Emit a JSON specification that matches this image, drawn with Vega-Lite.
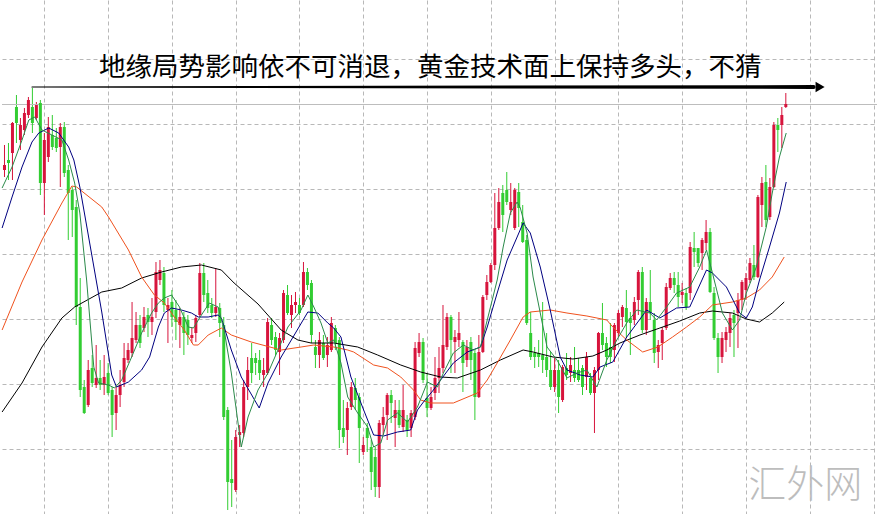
{
 "$schema": "https://vega.github.io/schema/vega-lite/v6.json",
 "width": 878, "height": 514,
 "autosize": {"type": "fit", "contains": "padding"},
 "padding": 0,
 "background": "white",
 "config": {"view": {"stroke": null},
   "axis": {"labels": false, "ticks": false, "domain": false, "grid": true, "gridColor": "#b8b8b8", "gridDash": [4, 3], "gridWidth": 1}},
 "datasets": {
  "candles": [
{"t":0,"o":344,"h":369,"l":337,"c":349},
{"t":1,"o":354,"h":371,"l":334,"c":351},
{"t":2,"o":361,"h":392,"l":334,"c":391},
{"t":3,"o":407,"h":419,"l":371,"c":391},
{"t":4,"o":374,"h":396,"l":364,"c":389},
{"t":5,"o":384,"h":406,"l":379,"c":401},
{"t":6,"o":399,"h":417,"l":396,"c":414},
{"t":7,"o":407,"h":426,"l":381,"c":391},
{"t":8,"o":396,"h":412,"l":394,"c":409},
{"t":9,"o":411,"h":414,"l":319,"c":331},
{"t":10,"o":331,"h":381,"l":299,"c":374},
{"t":11,"o":357,"h":397,"l":352,"c":387},
{"t":12,"o":379,"h":399,"l":364,"c":367},
{"t":13,"o":376,"h":386,"l":362,"c":366},
{"t":14,"o":367,"h":391,"l":327,"c":387},
{"t":15,"o":387,"h":392,"l":337,"c":341},
{"t":16,"o":344,"h":349,"l":274,"c":321},
{"t":17,"o":324,"h":327,"l":277,"c":304},
{"t":18,"o":307,"h":314,"l":189,"c":207},
{"t":19,"o":207,"h":236,"l":117,"c":124},
{"t":20,"o":127,"h":134,"l":100,"c":101},
{"t":21,"o":109,"h":154,"l":107,"c":144},
{"t":22,"o":146,"h":159,"l":127,"c":131},
{"t":23,"o":129,"h":169,"l":126,"c":136},
{"t":24,"o":136,"h":154,"l":124,"c":129},
{"t":25,"o":129,"h":159,"l":119,"c":137},
{"t":26,"o":141,"h":151,"l":119,"c":121},
{"t":27,"o":124,"h":127,"l":77,"c":99},
{"t":28,"o":101,"h":127,"l":84,"c":119},
{"t":29,"o":119,"h":144,"l":107,"c":129},
{"t":30,"o":132,"h":171,"l":127,"c":156},
{"t":31,"o":154,"h":171,"l":151,"c":164},
{"t":32,"o":161,"h":212,"l":157,"c":176},
{"t":33,"o":174,"h":202,"l":171,"c":189},
{"t":34,"o":189,"h":199,"l":166,"c":171},
{"t":35,"o":186,"h":207,"l":182,"c":197},
{"t":36,"o":199,"h":206,"l":177,"c":192},
{"t":37,"o":192,"h":216,"l":179,"c":197},
{"t":38,"o":202,"h":252,"l":196,"c":242},
{"t":39,"o":234,"h":254,"l":229,"c":244},
{"t":40,"o":241,"h":247,"l":202,"c":209},
{"t":41,"o":204,"h":216,"l":171,"c":209},
{"t":42,"o":212,"h":224,"l":187,"c":197},
{"t":43,"o":204,"h":214,"l":174,"c":192},
{"t":44,"o":189,"h":206,"l":166,"c":197},
{"t":45,"o":197,"h":202,"l":159,"c":181},
{"t":46,"o":194,"h":199,"l":169,"c":179},
{"t":47,"o":176,"h":187,"l":171,"c":179},
{"t":48,"o":181,"h":199,"l":172,"c":196},
{"t":49,"o":199,"h":251,"l":197,"c":241},
{"t":50,"o":241,"h":251,"l":212,"c":219},
{"t":51,"o":221,"h":234,"l":201,"c":206},
{"t":52,"o":209,"h":216,"l":196,"c":201},
{"t":53,"o":201,"h":246,"l":197,"c":207},
{"t":54,"o":206,"h":211,"l":177,"c":191},
{"t":55,"o":189,"h":197,"l":94,"c":97},
{"t":56,"o":104,"h":107,"l":4,"c":32},
{"t":57,"o":35,"h":74,"l":7,"c":31},
{"t":58,"o":24,"h":84,"l":22,"c":77},
{"t":59,"o":79,"h":89,"l":67,"c":82},
{"t":60,"o":81,"h":134,"l":77,"c":127},
{"t":61,"o":127,"h":157,"l":114,"c":144},
{"t":62,"o":156,"h":171,"l":131,"c":141},
{"t":63,"o":156,"h":161,"l":139,"c":151},
{"t":64,"o":154,"h":164,"l":134,"c":141},
{"t":65,"o":139,"h":156,"l":127,"c":144},
{"t":66,"o":141,"h":196,"l":139,"c":192},
{"t":67,"o":189,"h":196,"l":169,"c":174},
{"t":68,"o":177,"h":182,"l":159,"c":164},
{"t":69,"o":162,"h":181,"l":139,"c":176},
{"t":70,"o":174,"h":224,"l":171,"c":221},
{"t":71,"o":219,"h":229,"l":199,"c":201},
{"t":72,"o":199,"h":219,"l":186,"c":209},
{"t":73,"o":209,"h":222,"l":201,"c":212},
{"t":74,"o":209,"h":216,"l":199,"c":201},
{"t":75,"o":209,"h":252,"l":207,"c":242},
{"t":76,"o":242,"h":246,"l":224,"c":229},
{"t":77,"o":231,"h":234,"l":171,"c":179},
{"t":78,"o":167,"h":174,"l":146,"c":159},
{"t":79,"o":159,"h":182,"l":146,"c":174},
{"t":80,"o":171,"h":179,"l":154,"c":156},
{"t":81,"o":159,"h":177,"l":147,"c":169},
{"t":82,"o":164,"h":197,"l":162,"c":191},
{"t":83,"o":186,"h":189,"l":164,"c":171},
{"t":84,"o":174,"h":177,"l":66,"c":84},
{"t":85,"o":86,"h":114,"l":71,"c":77},
{"t":86,"o":84,"h":112,"l":59,"c":106},
{"t":87,"o":107,"h":132,"l":104,"c":127},
{"t":88,"o":126,"h":136,"l":104,"c":114},
{"t":89,"o":117,"h":121,"l":51,"c":86},
{"t":90,"o":62,"h":77,"l":59,"c":69},
{"t":91,"o":86,"h":91,"l":62,"c":76},
{"t":92,"o":67,"h":74,"l":24,"c":42},
{"t":93,"o":57,"h":67,"l":17,"c":27},
{"t":94,"o":27,"h":94,"l":16,"c":91},
{"t":95,"o":89,"h":107,"l":79,"c":97},
{"t":96,"o":99,"h":121,"l":74,"c":119},
{"t":97,"o":119,"h":124,"l":91,"c":111},
{"t":98,"o":96,"h":114,"l":67,"c":104},
{"t":99,"o":104,"h":114,"l":86,"c":89},
{"t":100,"o":87,"h":129,"l":82,"c":104},
{"t":101,"o":94,"h":99,"l":77,"c":84},
{"t":102,"o":86,"h":104,"l":77,"c":101},
{"t":103,"o":97,"h":172,"l":94,"c":166},
{"t":104,"o":161,"h":181,"l":157,"c":172},
{"t":105,"o":172,"h":176,"l":131,"c":134},
{"t":106,"o":116,"h":141,"l":97,"c":106},
{"t":107,"o":106,"h":127,"l":104,"c":117},
{"t":108,"o":121,"h":157,"l":114,"c":136},
{"t":109,"o":136,"h":167,"l":121,"c":146},
{"t":110,"o":146,"h":209,"l":141,"c":169},
{"t":111,"o":167,"h":201,"l":164,"c":197},
{"t":112,"o":197,"h":199,"l":141,"c":174},
{"t":113,"o":172,"h":184,"l":141,"c":177},
{"t":114,"o":174,"h":202,"l":167,"c":181},
{"t":115,"o":172,"h":174,"l":122,"c":151},
{"t":116,"o":154,"h":174,"l":147,"c":167},
{"t":117,"o":172,"h":177,"l":134,"c":154},
{"t":118,"o":161,"h":164,"l":94,"c":117},
{"t":119,"o":117,"h":179,"l":116,"c":162},
{"t":120,"o":162,"h":219,"l":161,"c":217},
{"t":121,"o":219,"h":239,"l":214,"c":232},
{"t":122,"o":232,"h":251,"l":231,"c":249},
{"t":123,"o":249,"h":321,"l":244,"c":286},
{"t":124,"o":286,"h":326,"l":284,"c":312},
{"t":125,"o":321,"h":329,"l":282,"c":299},
{"t":126,"o":324,"h":342,"l":309,"c":312},
{"t":127,"o":304,"h":331,"l":299,"c":312},
{"t":128,"o":286,"h":326,"l":284,"c":324},
{"t":129,"o":322,"h":331,"l":287,"c":306},
{"t":130,"o":292,"h":309,"l":271,"c":272},
{"t":131,"o":274,"h":279,"l":189,"c":191},
{"t":132,"o":181,"h":202,"l":154,"c":157},
{"t":133,"o":161,"h":167,"l":146,"c":157},
{"t":134,"o":161,"h":174,"l":147,"c":157},
{"t":135,"o":159,"h":212,"l":141,"c":154},
{"t":136,"o":157,"h":181,"l":137,"c":144},
{"t":137,"o":144,"h":162,"l":124,"c":127},
{"t":138,"o":127,"h":156,"l":122,"c":144},
{"t":139,"o":144,"h":154,"l":101,"c":117},
{"t":140,"o":114,"h":149,"l":112,"c":147},
{"t":141,"o":146,"h":161,"l":134,"c":139},
{"t":142,"o":141,"h":157,"l":132,"c":149},
{"t":143,"o":144,"h":167,"l":132,"c":136},
{"t":144,"o":144,"h":156,"l":132,"c":134},
{"t":145,"o":146,"h":149,"l":119,"c":127},
{"t":146,"o":137,"h":162,"l":124,"c":157},
{"t":147,"o":136,"h":141,"l":119,"c":121},
{"t":148,"o":121,"h":147,"l":81,"c":144},
{"t":149,"o":144,"h":182,"l":134,"c":181},
{"t":150,"o":181,"h":211,"l":164,"c":169},
{"t":151,"o":171,"h":177,"l":147,"c":157},
{"t":152,"o":167,"h":191,"l":151,"c":157},
{"t":153,"o":164,"h":191,"l":152,"c":189},
{"t":154,"o":181,"h":204,"l":177,"c":201},
{"t":155,"o":197,"h":209,"l":187,"c":207},
{"t":156,"o":206,"h":224,"l":176,"c":192},
{"t":157,"o":196,"h":202,"l":159,"c":191},
{"t":158,"o":194,"h":217,"l":189,"c":212},
{"t":159,"o":214,"h":244,"l":199,"c":242},
{"t":160,"o":242,"h":247,"l":181,"c":184},
{"t":161,"o":184,"h":216,"l":179,"c":212},
{"t":162,"o":212,"h":244,"l":194,"c":201},
{"t":163,"o":194,"h":201,"l":151,"c":161},
{"t":164,"o":162,"h":174,"l":146,"c":169},
{"t":165,"o":171,"h":187,"l":154,"c":184},
{"t":166,"o":186,"h":231,"l":184,"c":227},
{"t":167,"o":226,"h":241,"l":224,"c":236},
{"t":168,"o":236,"h":242,"l":221,"c":229},
{"t":169,"o":229,"h":242,"l":207,"c":217},
{"t":170,"o":219,"h":231,"l":211,"c":222},
{"t":171,"o":221,"h":226,"l":204,"c":207},
{"t":172,"o":221,"h":272,"l":214,"c":267},
{"t":173,"o":266,"h":282,"l":247,"c":262},
{"t":174,"o":266,"h":266,"l":247,"c":251},
{"t":175,"o":261,"h":276,"l":244,"c":274},
{"t":176,"o":271,"h":294,"l":264,"c":282},
{"t":177,"o":282,"h":286,"l":221,"c":222},
{"t":178,"o":221,"h":227,"l":174,"c":176},
{"t":179,"o":176,"h":181,"l":141,"c":157},
{"t":180,"o":157,"h":182,"l":151,"c":176},
{"t":181,"o":174,"h":187,"l":162,"c":182},
{"t":182,"o":181,"h":201,"l":167,"c":196},
{"t":183,"o":199,"h":204,"l":157,"c":191},
{"t":184,"o":201,"h":221,"l":166,"c":214},
{"t":185,"o":214,"h":234,"l":204,"c":232},
{"t":186,"o":224,"h":241,"l":214,"c":236},
{"t":187,"o":234,"h":256,"l":231,"c":251},
{"t":188,"o":249,"h":269,"l":234,"c":237},
{"t":189,"o":237,"h":319,"l":236,"c":317},
{"t":190,"o":309,"h":337,"l":287,"c":331},
{"t":191,"o":332,"h":349,"l":287,"c":294},
{"t":192,"o":297,"h":336,"l":294,"c":327},
{"t":193,"o":327,"h":392,"l":326,"c":389},
{"t":194,"o":389,"h":396,"l":362,"c":384},
{"t":195,"o":389,"h":407,"l":366,"c":399},
{"t":196,"o":407,"h":421,"l":406,"c":410}
  ],
  "ma": [
{"s":"k","t":-0.6,"v":102},{"s":"k","t":4.4,"v":131},{"s":"k","t":9.4,"v":167},{"s":"k","t":14.4,"v":196},{"s":"k","t":17.6,"v":207},{"s":"k","t":24.4,"v":222},{"s":"k","t":29.4,"v":226},{"s":"k","t":34.4,"v":236},{"s":"k","t":39.4,"v":242},{"s":"k","t":44.4,"v":247},{"s":"k","t":49.4,"v":249},{"s":"k","t":54.4,"v":244},{"s":"k","t":57.6,"v":231},{"s":"k","t":63.6,"v":210},{"s":"k","t":69.4,"v":184},{"s":"k","t":73.6,"v":174},{"s":"k","t":76.9,"v":171},{"s":"k","t":82.6,"v":171},{"s":"k","t":88.6,"v":167},{"s":"k","t":93.6,"v":159},{"s":"k","t":99.4,"v":149},{"s":"k","t":104.4,"v":142},{"s":"k","t":109.4,"v":137},{"s":"k","t":113.6,"v":136},{"s":"k","t":119.4,"v":144},{"s":"k","t":124.4,"v":154},{"s":"k","t":130.1,"v":164},{"s":"k","t":132.6,"v":162},{"s":"k","t":137.6,"v":157},{"s":"k","t":142.6,"v":155},{"s":"k","t":147.6,"v":158},{"s":"k","t":151.1,"v":164},{"s":"k","t":154.4,"v":171},{"s":"k","t":159.4,"v":179},{"s":"k","t":164.4,"v":186},{"s":"k","t":169.4,"v":193},{"s":"k","t":174.4,"v":201},{"s":"k","t":177.6,"v":203},{"s":"k","t":182.6,"v":201},{"s":"k","t":186.1,"v":195},{"s":"k","t":189.4,"v":192},{"s":"k","t":192.6,"v":201},{"s":"k","t":195.6,"v":212},
{"s":"o","t":-0.6,"v":184},{"s":"o","t":4.4,"v":232},{"s":"o","t":9.4,"v":274},{"s":"o","t":14.4,"v":311},{"s":"o","t":16.9,"v":328},{"s":"o","t":18.1,"v":327},{"s":"o","t":24.4,"v":307},{"s":"o","t":26.1,"v":297},{"s":"o","t":31.1,"v":264},{"s":"o","t":34.4,"v":237},{"s":"o","t":37.6,"v":219},{"s":"o","t":40.1,"v":211},{"s":"o","t":42.6,"v":197},{"s":"o","t":45.1,"v":184},{"s":"o","t":47.4,"v":169},{"s":"o","t":48.6,"v":169},{"s":"o","t":51.1,"v":179},{"s":"o","t":54.4,"v":186},{"s":"o","t":56.9,"v":179},{"s":"o","t":61.9,"v":172},{"s":"o","t":69.4,"v":164},{"s":"o","t":74.4,"v":167},{"s":"o","t":77.6,"v":169},{"s":"o","t":82.6,"v":167},{"s":"o","t":86.1,"v":164},{"s":"o","t":87.6,"v":162},{"s":"o","t":92.6,"v":149},{"s":"o","t":96.1,"v":146},{"s":"o","t":99.4,"v":137},{"s":"o","t":102.6,"v":124},{"s":"o","t":104.4,"v":114},{"s":"o","t":106.9,"v":111},{"s":"o","t":112.6,"v":111},{"s":"o","t":118.6,"v":121},{"s":"o","t":121.1,"v":134},{"s":"o","t":123.6,"v":151},{"s":"o","t":126.9,"v":174},{"s":"o","t":130.1,"v":197},{"s":"o","t":131.9,"v":202},{"s":"o","t":136.9,"v":204},{"s":"o","t":141.1,"v":201},{"s":"o","t":146.1,"v":198},{"s":"o","t":151.1,"v":194},{"s":"o","t":152.6,"v":187},{"s":"o","t":156.1,"v":174},{"s":"o","t":160.1,"v":162},{"s":"o","t":163.9,"v":167},{"s":"o","t":167.6,"v":177},{"s":"o","t":171.1,"v":187},{"s":"o","t":174.4,"v":197},{"s":"o","t":177.6,"v":209},{"s":"o","t":182.6,"v":212},{"s":"o","t":186.1,"v":216},{"s":"o","t":189.4,"v":224},{"s":"o","t":192.6,"v":237},{"s":"o","t":195.6,"v":257},
{"s":"n","t":-0.6,"v":286},{"s":"n","t":1.9,"v":317},{"s":"n","t":4.4,"v":347},{"s":"n","t":6.9,"v":372},{"s":"n","t":8.6,"v":381},{"s":"n","t":11.1,"v":386},{"s":"n","t":13.6,"v":381},{"s":"n","t":16.1,"v":367},{"s":"n","t":17.4,"v":354},{"s":"n","t":18.9,"v":327},{"s":"n","t":21.9,"v":259},{"s":"n","t":24.4,"v":202},{"s":"n","t":26.9,"v":139},{"s":"n","t":28.1,"v":127},{"s":"n","t":31.1,"v":132},{"s":"n","t":34.4,"v":144},{"s":"n","t":36.4,"v":157},{"s":"n","t":38.6,"v":187},{"s":"n","t":40.1,"v":201},{"s":"n","t":41.9,"v":206},{"s":"n","t":44.4,"v":204},{"s":"n","t":46.9,"v":201},{"s":"n","t":48.6,"v":197},{"s":"n","t":51.1,"v":197},{"s":"n","t":53.6,"v":199},{"s":"n","t":54.4,"v":196},{"s":"n","t":56.9,"v":164},{"s":"n","t":59.4,"v":137},{"s":"n","t":63.9,"v":106},{"s":"n","t":66.1,"v":131},{"s":"n","t":69.4,"v":157},{"s":"n","t":72.4,"v":177},{"s":"n","t":76.1,"v":202},{"s":"n","t":78.6,"v":201},{"s":"n","t":81.1,"v":191},{"s":"n","t":82.6,"v":186},{"s":"n","t":84.4,"v":177},{"s":"n","t":86.9,"v":137},{"s":"n","t":90.1,"v":104},{"s":"n","t":92.6,"v":79},{"s":"n","t":95.1,"v":78},{"s":"n","t":98.6,"v":82},{"s":"n","t":101.9,"v":84},{"s":"n","t":103.6,"v":104},{"s":"n","t":105.1,"v":112},{"s":"n","t":107.6,"v":124},{"s":"n","t":109.4,"v":134},{"s":"n","t":112.6,"v":151},{"s":"n","t":116.1,"v":162},{"s":"n","t":119.4,"v":167},{"s":"n","t":121.1,"v":187},{"s":"n","t":123.6,"v":221},{"s":"n","t":126.1,"v":254},{"s":"n","t":128.6,"v":277},{"s":"n","t":130.1,"v":291},{"s":"n","t":131.9,"v":281},{"s":"n","t":134.4,"v":247},{"s":"n","t":136.9,"v":204},{"s":"n","t":139.4,"v":157},{"s":"n","t":141.1,"v":144},{"s":"n","t":144.4,"v":139},{"s":"n","t":147.6,"v":137},{"s":"n","t":149.4,"v":147},{"s":"n","t":152.6,"v":152},{"s":"n","t":156.1,"v":177},{"s":"n","t":161.1,"v":204},{"s":"n","t":164.4,"v":196},{"s":"n","t":168.6,"v":206},{"s":"n","t":171.9,"v":207},{"s":"n","t":176.1,"v":244},{"s":"n","t":177.6,"v":241},{"s":"n","t":181.1,"v":227},{"s":"n","t":184.4,"v":201},{"s":"n","t":186.1,"v":196},{"s":"n","t":187.6,"v":207},{"s":"n","t":189.4,"v":234},{"s":"n","t":191.9,"v":267},{"s":"n","t":194.4,"v":301},{"s":"n","t":196.1,"v":332},
{"s":"g","t":-0.6,"v":326},{"s":"g","t":1.9,"v":347},{"s":"g","t":4.4,"v":374},{"s":"g","t":6.1,"v":394},{"s":"g","t":7.6,"v":397},{"s":"g","t":9.4,"v":384},{"s":"g","t":11.9,"v":379},{"s":"g","t":14.4,"v":374},{"s":"g","t":16.1,"v":354},{"s":"g","t":17.6,"v":331},{"s":"g","t":18.9,"v":301},{"s":"g","t":20.6,"v":234},{"s":"g","t":22.4,"v":147},{"s":"g","t":23.6,"v":131},{"s":"g","t":26.1,"v":129},{"s":"g","t":27.6,"v":126},{"s":"g","t":29.4,"v":134},{"s":"g","t":31.9,"v":157},{"s":"g","t":34.4,"v":181},{"s":"g","t":36.9,"v":201},{"s":"g","t":38.6,"v":211},{"s":"g","t":40.1,"v":216},{"s":"g","t":41.9,"v":219},{"s":"g","t":43.9,"v":207},{"s":"g","t":46.1,"v":187},{"s":"g","t":47.4,"v":186},{"s":"g","t":49.4,"v":199},{"s":"g","t":51.4,"v":211},{"s":"g","t":53.6,"v":207},{"s":"g","t":55.1,"v":184},{"s":"g","t":56.9,"v":141},{"s":"g","t":59.4,"v":67},{"s":"g","t":61.1,"v":97},{"s":"g","t":63.6,"v":124},{"s":"g","t":66.1,"v":141},{"s":"g","t":68.6,"v":164},{"s":"g","t":71.1,"v":187},{"s":"g","t":74.4,"v":204},{"s":"g","t":76.1,"v":219},{"s":"g","t":77.6,"v":207},{"s":"g","t":79.4,"v":191},{"s":"g","t":81.1,"v":171},{"s":"g","t":82.6,"v":174},{"s":"g","t":84.4,"v":151},{"s":"g","t":86.1,"v":117},{"s":"g","t":88.6,"v":101},{"s":"g","t":91.1,"v":87},{"s":"g","t":92.6,"v":67},{"s":"g","t":94.4,"v":71},{"s":"g","t":96.1,"v":94},{"s":"g","t":98.6,"v":101},{"s":"g","t":101.1,"v":92},{"s":"g","t":103.6,"v":107},{"s":"g","t":106.1,"v":132},{"s":"g","t":108.6,"v":127},{"s":"g","t":110.1,"v":141},{"s":"g","t":112.6,"v":161},{"s":"g","t":115.1,"v":169},{"s":"g","t":117.6,"v":164},{"s":"g","t":119.4,"v":167},{"s":"g","t":121.1,"v":194},{"s":"g","t":123.6,"v":234},{"s":"g","t":125.1,"v":267},{"s":"g","t":126.9,"v":301},{"s":"g","t":128.6,"v":312},{"s":"g","t":129.4,"v":306},{"s":"g","t":131.1,"v":281},{"s":"g","t":132.6,"v":237},{"s":"g","t":134.4,"v":201},{"s":"g","t":136.1,"v":167},{"s":"g","t":138.6,"v":154},{"s":"g","t":141.1,"v":136},{"s":"g","t":143.6,"v":141},{"s":"g","t":146.1,"v":144},{"s":"g","t":148.6,"v":127},{"s":"g","t":151.1,"v":154},{"s":"g","t":153.6,"v":174},{"s":"g","t":156.1,"v":191},{"s":"g","t":158.6,"v":204},{"s":"g","t":161.9,"v":201},{"s":"g","t":163.6,"v":194},{"s":"g","t":166.1,"v":207},{"s":"g","t":168.6,"v":221},{"s":"g","t":171.9,"v":227},{"s":"g","t":174.4,"v":247},{"s":"g","t":176.1,"v":264},{"s":"g","t":177.6,"v":241},{"s":"g","t":180.1,"v":201},{"s":"g","t":182.6,"v":184},{"s":"g","t":184.4,"v":194},{"s":"g","t":186.1,"v":221},{"s":"g","t":188.6,"v":247},{"s":"g","t":191.1,"v":287},{"s":"g","t":192.6,"v":321},{"s":"g","t":194.4,"v":357},{"s":"g","t":196.1,"v":381}
  ],
  "arrow": [{"t":6.9,"v":427,"w":1.2},{"t":30,"v":427,"w":1.6},{"t":203,"v":427,"w":3.8}],
  "head": [{"t":204.6,"v":427}],
  "title": [{"t":106.8,"v":446,"txt":"地缘局势影响依不可消退，黄金技术面上保持多头，不猜"}],
  "mark": [{"t":200.9,"v":28,"txt":"汇外网"}],
  "last": [{"p":409.5}]
 },
 "layer": [
  {"data": {"name": "candles"},
   "mark": {"type": "rule", "strokeWidth": 1},
   "encoding": {
    "x": {"field": "t", "type": "quantitative", "title": null, "scale": {"domain": [-0.625, 218.875], "nice": false, "zero": false}, "axis": {"values": [10, 26, 42, 58, 74, 90, 106, 122, 138, 154, 170, 186, 202, 218]}},
    "y": {"field": "l", "type": "quantitative", "title": null, "scale": {"domain": [0, 514], "nice": false, "zero": false}, "axis": {"values": [0.5, 65.5, 130.5, 195.5, 260.5, 325.5, 390.5, 455.5]}},
    "y2": {"field": "h"},
    "color": {"condition": {"test": "datum.c >= datum.o", "value": "#d7143c"}, "value": "#32cd32"}
   }},
  {"data": {"name": "last"},
   "mark": {"type": "rule", "color": "#bdbdbd", "strokeWidth": 1},
   "encoding": {
    "y": {"field": "p", "type": "quantitative", "title": null, "scale": {"domain": [0, 514], "nice": false, "zero": false}}
   }},
  {"data": {"name": "candles"},
   "mark": {"type": "rule", "strokeWidth": 3, "strokeCap": "butt"},
   "encoding": {
    "x": {"field": "t", "type": "quantitative", "title": null, "scale": {"domain": [-0.625, 218.875], "nice": false, "zero": false}},
    "y": {"field": "o", "type": "quantitative", "title": null, "scale": {"domain": [0, 514], "nice": false, "zero": false}},
    "y2": {"field": "c"},
    "color": {"condition": {"test": "datum.c >= datum.o", "value": "#d7143c"}, "value": "#32cd32"}
   }},
  {"data": {"name": "ma"},
   "mark": {"type": "line", "strokeWidth": 1},
   "encoding": {
    "x": {"field": "t", "type": "quantitative", "title": null, "scale": {"domain": [-0.625, 218.875], "nice": false, "zero": false}},
    "y": {"field": "v", "type": "quantitative", "title": null, "scale": {"domain": [0, 514], "nice": false, "zero": false}},
    "color": {"field": "s", "type": "nominal", "legend": null, "scale": {"domain": ["k", "o", "n", "g"], "range": ["#000000", "#f0521e", "#000080", "#2b8a4a"]}}
   }},
  {"data": {"name": "arrow"},
   "mark": {"type": "trail", "color": "#000000"},
   "encoding": {
    "x": {"field": "t", "type": "quantitative", "title": null, "scale": {"domain": [-0.625, 218.875], "nice": false, "zero": false}},
    "y": {"field": "v", "type": "quantitative", "title": null, "scale": {"domain": [0, 514], "nice": false, "zero": false}},
    "size": {"field": "w", "type": "quantitative", "scale": null, "legend": null}
   }},
  {"data": {"name": "head"},
   "mark": {"type": "point", "shape": "triangle-right", "filled": true, "color": "#000000", "size": 110, "opacity": 1},
   "encoding": {
    "x": {"field": "t", "type": "quantitative", "title": null, "scale": {"domain": [-0.625, 218.875], "nice": false, "zero": false}},
    "y": {"field": "v", "type": "quantitative", "title": null, "scale": {"domain": [0, 514], "nice": false, "zero": false}}
   }},
  {"data": {"name": "title"},
   "mark": {"type": "text", "font": "Noto Sans CJK SC", "fontSize": 26.5, "color": "#000000", "align": "center", "baseline": "middle"},
   "encoding": {
    "x": {"field": "t", "type": "quantitative", "title": null, "scale": {"domain": [-0.625, 218.875], "nice": false, "zero": false}},
    "y": {"field": "v", "type": "quantitative", "title": null, "scale": {"domain": [0, 514], "nice": false, "zero": false}},
    "text": {"field": "txt"}
   }},
  {"data": {"name": "mark"},
   "mark": {"type": "text", "font": "Noto Sans CJK SC", "fontSize": 38, "fontWeight": 300, "color": "#bdbdbd", "align": "center", "baseline": "middle"},
   "encoding": {
    "x": {"field": "t", "type": "quantitative", "title": null, "scale": {"domain": [-0.625, 218.875], "nice": false, "zero": false}},
    "y": {"field": "v", "type": "quantitative", "title": null, "scale": {"domain": [0, 514], "nice": false, "zero": false}},
    "text": {"field": "txt"}
   }}
 ]
}
